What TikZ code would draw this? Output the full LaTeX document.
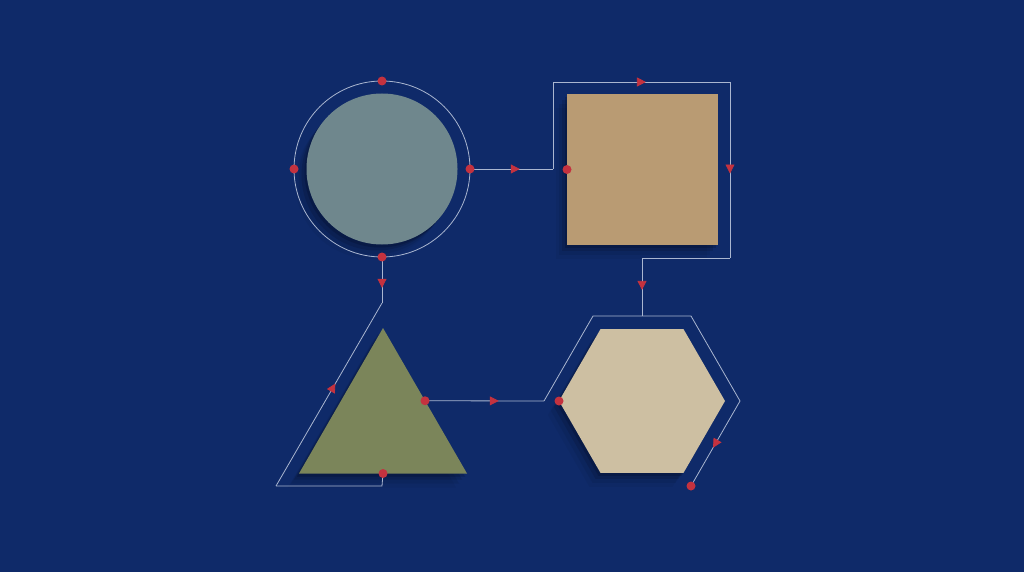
\documentclass[tikz,border=0pt]{standalone}
\usetikzlibrary{positioning,arrows.meta,shapes.geometric,shadows,decorations.markings,calc}
\definecolor{navy}{RGB}{15,42,105}
\definecolor{wirecol}{RGB}{170,182,208}
\definecolor{tipred}{RGB}{196,50,63}
\definecolor{circcol}{RGB}{111,135,141}
\definecolor{sqcol}{RGB}{185,155,115}
\definecolor{tricol}{RGB}{123,133,90}
\definecolor{hexcol}{RGB}{205,191,162}
\tikzset{
  softshadow/.style={
    general shadow={shadow xshift=-2pt, shadow yshift=-3pt, fill=black, opacity=0.15},
    general shadow={shadow xshift=-5pt, shadow yshift=-6pt, fill=black, opacity=0.11},
    general shadow={shadow xshift=-8pt, shadow yshift=-10pt, fill=black, opacity=0.07},
    general shadow={shadow xshift=-11pt, shadow yshift=-14pt, fill=black, opacity=0.04}},
}
\begin{document}
\begin{tikzpicture}[x=1pt, y=-1pt,
    tile/.style={inner sep=0pt, outer sep=0pt, softshadow},
    link/.style={draw=wirecol, line width=0.8pt, line join=miter},
    midtip/.style={decoration={markings, mark=at position #1 with {\arrow[color=tipred]{Triangle[length=9pt, width=9pt]}}}, postaction=decorate},
    midtip/.default=0.5,
    port/.style={circle, fill=tipred, inner sep=0pt, minimum size=9pt}
]
\fill[navy] (0,0) rectangle (1024,572);

% Shapes
\node[tile, circle, fill=circcol, minimum size=151pt] (circ) at (382,169) {};
\node[link, circle, minimum size=176pt, inner sep=0pt, outer sep=0pt] (ring) at (circ) {};
\node[tile, rectangle, fill=sqcol, minimum size=151pt] (sq) at (642.5,169.5) {};
\node[tile, regular polygon, regular polygon sides=3, fill=tricol, minimum size=194pt] (tri) at (383,425) {};
\node[tile, regular polygon, regular polygon sides=6, fill=hexcol, minimum size=166pt] (hex) at (642,401) {};

% Route corners
\coordinate (r1) at (553,169);
\coordinate (r2) at (553,82);
\coordinate (r3) at (730,82);
\coordinate (r4) at (730,258);
\coordinate (r5) at (642,258);
\coordinate (h0) at (544,401);
\coordinate (h1) at (593,316);
\coordinate (h2) at (691,316);
\coordinate (h3) at (740,401);
\coordinate (h4) at (691,486);
\coordinate (t0) at (382,303);
\coordinate (t1) at (276,486);
\coordinate (t2) at (382,486);

% Connectors
\draw[link, midtip=0.6] (ring.east) -- (r1);
\draw[link] (r1) -- (r2);
\draw[link, midtip=0.525] (r2) -- (r3);
\draw[link, midtip=0.52] (r3) -- (r4);
\draw[link] (r4) -- (r5);
\draw[link, midtip=0.55] (r5) -- (r5 |- h1);
\draw[link, midtip=0.67] (ring.south) -- (t0);
\draw[link, midtip=0.56] (t1) -- (t0);
\draw[link] (t1) -- (t2) -- (tri.side 2);
\draw[link, midtip=0.62] (tri.side 3) -- (h0);
\draw[link] (h0) -- (h1) -- (h2) -- (h3);
\draw[link, midtip=0.55] (h3) -- (h4);

% Ports
\foreach \a in {north,west,east,south}
  \node[port] at (ring.\a) {};
\node[port] at (sq.west) {};
\node[port] at (tri.side 3) {};
\node[port] at (tri.side 2) {};
\node[port] at (hex.west) {};
\node[port] at (h4) {};
\end{tikzpicture}
\end{document}
